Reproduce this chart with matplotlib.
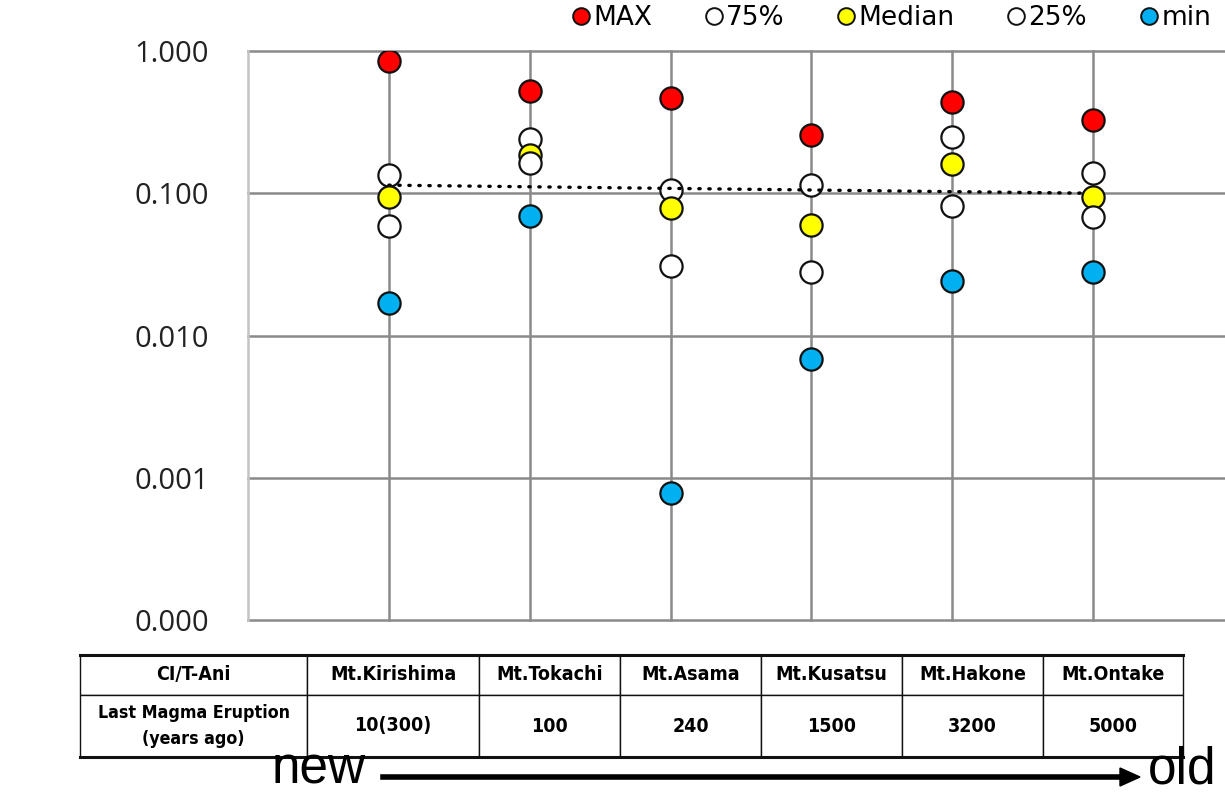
import matplotlib.pyplot as plt
from matplotlib.lines import Line2D

# data
volcanoes = ["Mt.Kirishima", "Mt.Tokachi", "Mt.Asama", "Mt.Kusatsu", "Mt.Hakone", "Mt.Ontake"]
eruption = ["10(300)", "100", "240", "1500", "3200", "5000"]
v_max = [0.85, 0.52, 0.47, 0.256, 0.435, 0.326]
v_75 = [0.134, 0.24, 0.105, 0.114, 0.248, 0.138]
v_med = [0.094, 0.185, 0.0785, 0.060, 0.16, 0.094]
v_25 = [0.059, 0.163, 0.0307, 0.028, 0.082, 0.068]
v_min = [0.017, 0.069, 0.00078, 0.0068, 0.024, 0.028]
trend_x = [1, 6]
trend_y = [0.114, 0.100]
yticks = [0.0001, 0.001, 0.01, 0.1, 1.0]
ylabels = ["0.000", "0.001", "0.010", "0.100", "1.000"]

narrow = {"family": "DejaVu Sans", "stretch": "condensed"}
grid_c = "#8a8a8a"

fig = plt.figure(figsize=(12.25, 7.95), dpi=100)
ax = fig.add_axes([248 / 1225, 1 - 620 / 795, 986 / 1225, (620 - 51) / 795])

x = list(range(1, len(volcanoes) + 1))
ax.set_yscale("log")
ax.set_ylim(yticks[0], yticks[-1])
ax.set_xlim(0, 7)

for y in yticks:
    ax.axhline(y, color=grid_c, lw=1.8, zorder=1, clip_on=False)
for xi in x:
    ax.axvline(xi, color=grid_c, lw=1.8, zorder=1, clip_on=False)

for s in ["top", "right", "bottom"]:
    ax.spines[s].set_visible(False)
ax.spines["left"].set_color("#c4c4c4")
ax.spines["left"].set_linewidth(1.8)

ax.set_xticks([])
ax.set_yticks(yticks)
ax.set_yticklabels(ylabels, fontsize=21, family=["Open Sans", "DejaVu Sans"], color="#222222")
ax.yaxis.set_minor_locator(plt.NullLocator())
ax.tick_params(axis="y", length=0, pad=28)

mk = dict(marker="o", ms=16, mec="#111111", mew=1.6, ls="none")
ax.plot(x, v_max, mfc="#ff0000", zorder=5, **mk)
ax.plot(x, v_75, mfc="white", zorder=3, **mk)
ax.plot(x, v_med, mfc="#ffff00", zorder=5, **mk)
ax.plot(x, v_25, mfc="white", zorder=5, **mk)
ax.plot(x, v_min, mfc="#00b0f0", zorder=5, **mk)
ax.plot(trend_x, trend_y, color="black", lw=2.4, ls=(0, (0.4, 2.6)),
        dash_capstyle="round", zorder=4)

# legend
handles = [
    Line2D([], [], marker="o", ms=12, mec="#111111", mew=1.4, ls="none", mfc=c)
    for c in ["#ff0000", "white", "#ffff00", "white", "#00b0f0"]
]
fig.legend(handles, ["MAX", "75%", "Median", "25%", "min"], ncol=5,
           loc="center right", bbox_to_anchor=(1211 / 1225, 1 - 18 / 795),
           frameon=False, handlelength=0.55, handletextpad=0.2, columnspacing=2.05,
           borderpad=0, borderaxespad=0, prop={"family": "DejaVu Sans", "size": 19})

# table below the chart
tax = fig.add_axes([80 / 1225, 1 - 757 / 795, 1103 / 1225, 102 / 795])
tax.axis("off")
cells = [["CI/T-Ani"] + volcanoes, ["Last Magma Eruption\n(years ago)"] + eruption]
widths = [227, 172, 141, 141, 141, 141, 140]
tbl = tax.table(cellText=cells, colWidths=[w / sum(widths) for w in widths],
                cellLoc="center", bbox=[0, 0, 1, 1])
tbl.auto_set_font_size(False)
for (r, c), cell in tbl.get_celld().items():
    cell.set_height(40 if r == 0 else 62)
    cell.set_linewidth(1.0)
    cell.set_edgecolor("#111111")
    fs = 12.8 if (r == 1 and c == 0) else 14
    cell.get_text().set_fontproperties(dict(narrow, weight="bold", size=fs))
    if r == 1 and c == 0:
        cell.get_text().set_linespacing(1.6)
tax.axhline(1, color="#111111", lw=2.2, clip_on=False)
tax.axhline(0, color="#111111", lw=2.2, clip_on=False)

# new -> old arrow
fig.text(272 / 1225, 1 - 794 / 795, "new", fontsize=37, family=["Liberation Sans", "DejaVu Sans"],
         ha="left", va="bottom")
fig.text(1148 / 1225, 1 - 794 / 795, "old", fontsize=37, family=["Liberation Sans", "DejaVu Sans"],
         ha="left", va="bottom")
fig.add_artist(plt.Line2D([383 / 1225, 1122 / 1225], [1 - 777 / 795] * 2, color="black", lw=4))
fig.patches.append(plt.Polygon([[1120 / 1225, 1 - 768 / 795], [1140 / 1225, 1 - 777 / 795],
                                [1120 / 1225, 1 - 786 / 795]], closed=True, color="black",
                               transform=fig.transFigure, figure=fig))

fig.savefig("out.png", dpi=100)
